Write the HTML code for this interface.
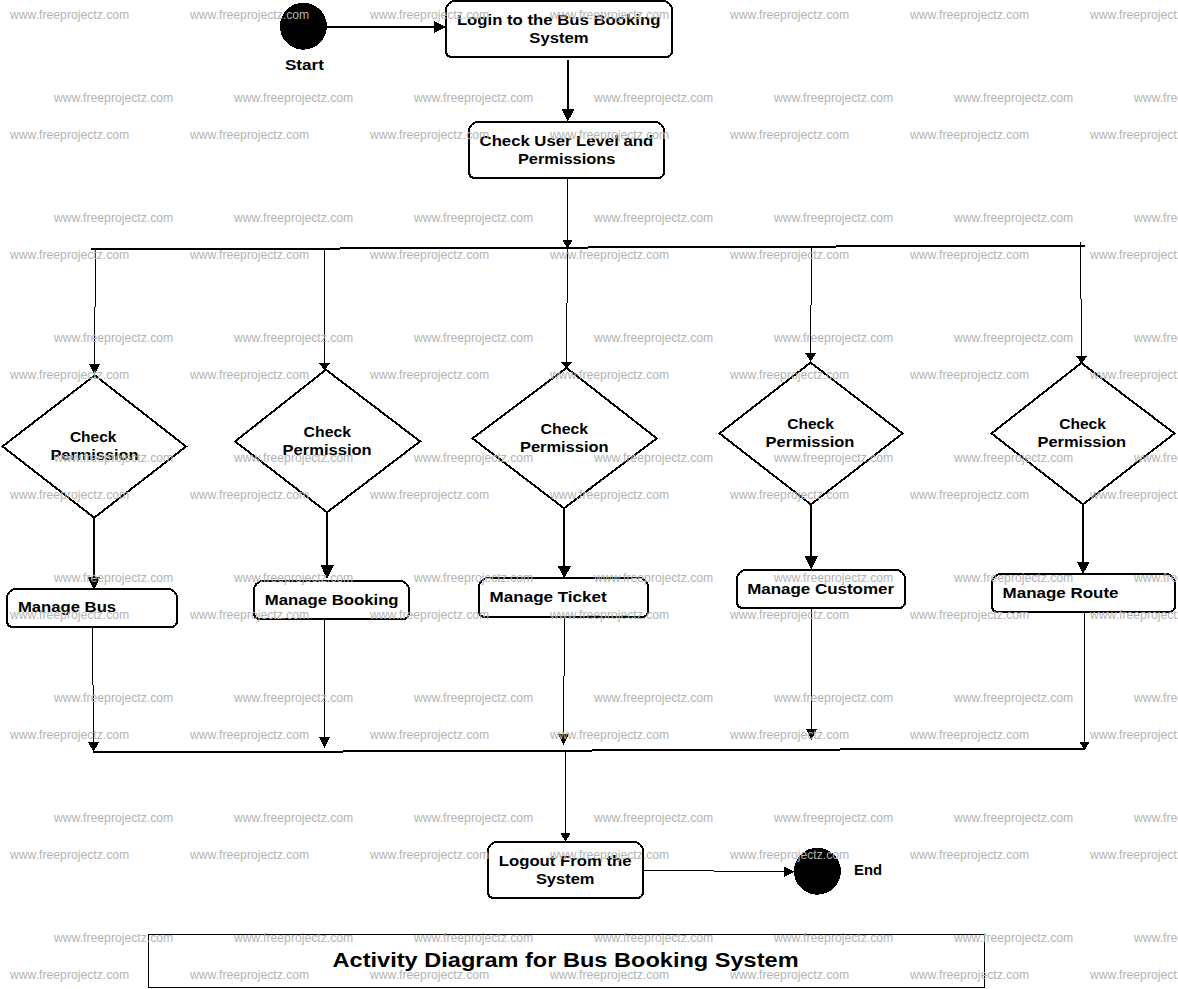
<!DOCTYPE html>
<html><head><meta charset="utf-8"><title>Activity Diagram for Bus Booking System</title>
<style>
html,body{margin:0;padding:0;background:#fff;}
body{width:1178px;height:989px;overflow:hidden;position:relative;}
svg{position:absolute;left:0;top:0;display:block;}
.t text{font-family:"Liberation Sans",sans-serif;font-weight:bold;fill:#000;}
.w text{font-family:"Liberation Sans",sans-serif;font-size:12.2px;fill:#b3b3b3;}
</style></head>
<body>
<svg width="1178" height="989" viewBox="0 0 1178 989">
<rect x="0" y="0" width="1178" height="989" fill="#fff"/>
<g shape-rendering="crispEdges">
<circle cx="303.4" cy="26.2" r="23.5" fill="#000"/>
<line x1="326" y1="27" x2="435" y2="27" stroke="#000" stroke-width="2"/>
<polygon points="433.5,21.0 446,27.0 433.5,33.2" fill="#000"/>
<path d="M455.0,1 H663.0 A9.0,9.0 0 0 1 672,10.0 V51.5 A5.5,5.5 0 0 1 666.5,57 H451.5 A5.5,5.5 0 0 1 446,51.5 V10.0 A9.0,9.0 0 0 1 455.0,1 Z" fill="#fff" stroke="#000" stroke-width="2"/>
<line x1="568" y1="60.3" x2="568" y2="110" stroke="#000" stroke-width="2"/>
<polygon points="561.2,108.9 574.6,108.9 567.9,121.5" fill="#000"/>
<path d="M478.0,122 H655.0 A9.0,9.0 0 0 1 664,131.0 V172.5 A5.5,5.5 0 0 1 658.5,178 H474.5 A5.5,5.5 0 0 1 469,172.5 V131.0 A9.0,9.0 0 0 1 478.0,122 Z" fill="#fff" stroke="#000" stroke-width="2"/>
<line x1="567.5" y1="179" x2="567.5" y2="241" stroke="#000" stroke-width="1"/>
<polygon points="562.2,240 572.8,240 567.5,248.2" fill="#000"/>
<line x1="91" y1="249" x2="340" y2="249" stroke="#000" stroke-width="2"/>
<line x1="340" y1="248" x2="587.7" y2="248" stroke="#000" stroke-width="2"/>
<line x1="587.7" y1="247" x2="836.4" y2="247" stroke="#000" stroke-width="2"/>
<line x1="836.4" y1="246" x2="1084.7" y2="246" stroke="#000" stroke-width="2"/>
<line x1="95.5" y1="249" x2="95.5" y2="306.7" stroke="#000" stroke-width="1"/><line x1="94.5" y1="306.7" x2="94.5" y2="365" stroke="#000" stroke-width="1"/>
<polygon points="89.1,364 99.9,364 94.5,374.8" fill="#000"/>
<line x1="324.5" y1="248" x2="324.5" y2="364" stroke="#000" stroke-width="1"/>
<polygon points="319.1,363.1 329.8,363.1 324.5,370.5" fill="#000"/>
<line x1="567.5" y1="247" x2="567.5" y2="303" stroke="#000" stroke-width="1"/><line x1="566.5" y1="303" x2="566.5" y2="363" stroke="#000" stroke-width="1"/>
<polygon points="561.2,362.2 571.9,362.2 566.5,369.0" fill="#000"/>
<line x1="811.5" y1="246" x2="811.5" y2="304.5" stroke="#000" stroke-width="1"/><line x1="810.5" y1="304.5" x2="810.5" y2="354" stroke="#000" stroke-width="1"/>
<polygon points="805.3,353.4 816.0,353.4 810.6,361.8" fill="#000"/>
<line x1="1080.5" y1="242.2" x2="1080.5" y2="299" stroke="#000" stroke-width="1"/><line x1="1081.5" y1="299" x2="1081.5" y2="357" stroke="#000" stroke-width="1"/>
<polygon points="1076.2,356.3 1086.9,356.3 1081.5,363.6" fill="#000"/>
<polygon points="94.80,375.30 186.00,446.50 94.20,517.70 2.50,446.40" fill="#fff" stroke="#000" stroke-width="2" stroke-linejoin="miter"/>
<polygon points="325.90,369.70 420.10,441.40 327.10,512.30 235.10,441.40" fill="#fff" stroke="#000" stroke-width="2" stroke-linejoin="miter"/>
<polygon points="566.50,367.90 656.80,438.40 564.00,508.20 472.50,438.40" fill="#fff" stroke="#000" stroke-width="2" stroke-linejoin="miter"/>
<polygon points="810.60,362.60 902.60,433.40 810.90,504.40 719.50,433.40" fill="#fff" stroke="#000" stroke-width="2" stroke-linejoin="miter"/>
<polygon points="1081.40,362.90 1174.50,433.40 1083.00,504.40 991.50,433.40" fill="#fff" stroke="#000" stroke-width="2" stroke-linejoin="miter"/>
<line x1="94.0" y1="517" x2="94.0" y2="578" stroke="#000" stroke-width="2"/>
<polygon points="87.5,577 100.5,577 94.0,589.5" fill="#000"/>
<line x1="327.0" y1="511.6" x2="327.0" y2="566" stroke="#000" stroke-width="2"/>
<polygon points="320.5,565.4 333.8,565.4 327.2,579.0" fill="#000"/>
<line x1="564.0" y1="507.5" x2="564.0" y2="567" stroke="#000" stroke-width="2"/>
<polygon points="557.6,566.1 571.0,566.1 564.3,578.0" fill="#000"/>
<line x1="811.0" y1="503.7" x2="811.0" y2="557" stroke="#000" stroke-width="2"/>
<polygon points="804.8,556.3 817.8,556.3 811.3,569.8" fill="#000"/>
<line x1="1083.0" y1="503.7" x2="1083.0" y2="563" stroke="#000" stroke-width="2"/>
<polygon points="1076.8,562.2 1089.6,562.2 1083.2,573.8" fill="#000"/>
<path d="M16.0,589 H168.0 A9.0,9.0 0 0 1 177,598.0 V621.5 A5.5,5.5 0 0 1 171.5,627 H12.5 A5.5,5.5 0 0 1 7,621.5 V598.0 A9.0,9.0 0 0 1 16.0,589 Z" fill="#fff" stroke="#000" stroke-width="2"/>
<path d="M263.0,581 H400.0 A9.0,9.0 0 0 1 409,590.0 V613.5 A5.5,5.5 0 0 1 403.5,619 H259.5 A5.5,5.5 0 0 1 254,613.5 V590.0 A9.0,9.0 0 0 1 263.0,581 Z" fill="#fff" stroke="#000" stroke-width="2"/>
<path d="M488.0,578 H639.0 A9.0,9.0 0 0 1 648,587.0 V611.5 A5.5,5.5 0 0 1 642.5,617 H484.5 A5.5,5.5 0 0 1 479,611.5 V587.0 A9.0,9.0 0 0 1 488.0,578 Z" fill="#fff" stroke="#000" stroke-width="2"/>
<path d="M746.0,570 H896.0 A9.0,9.0 0 0 1 905,579.0 V602.5 A5.5,5.5 0 0 1 899.5,608 H742.5 A5.5,5.5 0 0 1 737,602.5 V579.0 A9.0,9.0 0 0 1 746.0,570 Z" fill="#fff" stroke="#000" stroke-width="2"/>
<path d="M1001.0,574 H1166.0 A9.0,9.0 0 0 1 1175,583.0 V606.5 A5.5,5.5 0 0 1 1169.5,612 H997.5 A5.5,5.5 0 0 1 992,606.5 V583.0 A9.0,9.0 0 0 1 1001.0,574 Z" fill="#fff" stroke="#000" stroke-width="2"/>
<line x1="92.5" y1="628" x2="92.5" y2="684.5" stroke="#000" stroke-width="1"/><line x1="93.5" y1="684.5" x2="93.5" y2="743" stroke="#000" stroke-width="1"/>
<polygon points="88.0,742 99.0,742 93.5,752.0" fill="#000"/>
<line x1="324.5" y1="620" x2="324.5" y2="738" stroke="#000" stroke-width="1"/>
<polygon points="319.1,737.3 329.8,737.3 324.5,747.8" fill="#000"/>
<line x1="564.5" y1="618" x2="564.5" y2="675.6" stroke="#000" stroke-width="1"/><line x1="563.5" y1="675.6" x2="563.5" y2="735" stroke="#000" stroke-width="1"/>
<polygon points="557.9,734.0 568.9,734.0 563.5,744.6" fill="#000"/>
<line x1="811.5" y1="609" x2="811.5" y2="730" stroke="#000" stroke-width="1"/>
<polygon points="806.2,729.3 816.9,729.3 811.5,740.0" fill="#000"/>
<line x1="1084.5" y1="613" x2="1084.5" y2="742" stroke="#000" stroke-width="1"/>
<polygon points="1079.2,741.5 1089.8,741.5 1084.5,750.2" fill="#000"/>
<line x1="93.0" y1="752" x2="342.9" y2="752" stroke="#000" stroke-width="2"/>
<line x1="342.9" y1="751" x2="591.5" y2="751" stroke="#000" stroke-width="2"/>
<line x1="591.5" y1="750" x2="840" y2="750" stroke="#000" stroke-width="2"/>
<line x1="840" y1="749" x2="1085" y2="749" stroke="#000" stroke-width="2"/>
<line x1="565.5" y1="750" x2="565.5" y2="834" stroke="#000" stroke-width="1"/>
<polygon points="560.3,833 570.8,833 565.5,841.6" fill="#000"/>
<path d="M497.0,842 H634.0 A9.0,9.0 0 0 1 643,851.0 V892.5 A5.5,5.5 0 0 1 637.5,898 H493.5 A5.5,5.5 0 0 1 488,892.5 V851.0 A9.0,9.0 0 0 1 497.0,842 Z" fill="#fff" stroke="#000" stroke-width="2"/>
<line x1="644" y1="870.5" x2="714" y2="870.5" stroke="#000" stroke-width="1"/>
<line x1="714" y1="871.5" x2="785" y2="871.5" stroke="#000" stroke-width="1"/>
<polygon points="784.2,866.4 794.5,871.6 784.2,877.0" fill="#000"/>
<circle cx="817.4" cy="871.2" r="23.5" fill="#000"/>
<rect x="148.5" y="934.5" width="836" height="53" fill="none" stroke="#000" stroke-width="1"/>
</g>
<g class="t">
<text x="284.90" y="70.00" font-size="14.3" textLength="39.00" lengthAdjust="spacingAndGlyphs">Start</text>
<text x="456.90" y="25.00" font-size="14.3" textLength="203.50" lengthAdjust="spacingAndGlyphs">Login to the Bus Booking</text>
<text x="529.30" y="43.00" font-size="14.3" textLength="59.20" lengthAdjust="spacingAndGlyphs">System</text>
<text x="479.60" y="146.00" font-size="14.3" textLength="173.50" lengthAdjust="spacingAndGlyphs">Check User Level and</text>
<text x="517.90" y="164.00" font-size="14.3" textLength="97.60" lengthAdjust="spacingAndGlyphs">Permissions</text>
<text x="69.90" y="442.00" font-size="14.3" textLength="46.50" lengthAdjust="spacingAndGlyphs">Check</text>
<text x="50.40" y="460.00" font-size="14.3" textLength="88.10" lengthAdjust="spacingAndGlyphs">Permission</text>
<text x="303.60" y="437.00" font-size="14.3" textLength="47.40" lengthAdjust="spacingAndGlyphs">Check</text>
<text x="282.50" y="455.00" font-size="14.3" textLength="89.20" lengthAdjust="spacingAndGlyphs">Permission</text>
<text x="540.60" y="434.00" font-size="14.3" textLength="47.50" lengthAdjust="spacingAndGlyphs">Check</text>
<text x="520.00" y="452.00" font-size="14.3" textLength="88.50" lengthAdjust="spacingAndGlyphs">Permission</text>
<text x="787.20" y="429.00" font-size="14.3" textLength="46.60" lengthAdjust="spacingAndGlyphs">Check</text>
<text x="765.60" y="447.00" font-size="14.3" textLength="88.80" lengthAdjust="spacingAndGlyphs">Permission</text>
<text x="1059.20" y="429.00" font-size="14.3" textLength="46.60" lengthAdjust="spacingAndGlyphs">Check</text>
<text x="1037.50" y="447.00" font-size="14.3" textLength="88.60" lengthAdjust="spacingAndGlyphs">Permission</text>
<text x="17.90" y="612.00" font-size="14.3" textLength="98.20" lengthAdjust="spacingAndGlyphs">Manage Bus</text>
<text x="264.70" y="605.00" font-size="14.3" textLength="133.90" lengthAdjust="spacingAndGlyphs">Manage Booking</text>
<text x="489.60" y="602.00" font-size="14.3" textLength="117.10" lengthAdjust="spacingAndGlyphs">Manage Ticket</text>
<text x="747.20" y="594.00" font-size="14.3" textLength="146.80" lengthAdjust="spacingAndGlyphs">Manage Customer</text>
<text x="1002.60" y="598.00" font-size="14.3" textLength="115.90" lengthAdjust="spacingAndGlyphs">Manage Route</text>
<text x="498.80" y="866.00" font-size="14.3" textLength="132.70" lengthAdjust="spacingAndGlyphs">Logout From the</text>
<text x="535.90" y="884.00" font-size="14.3" textLength="58.60" lengthAdjust="spacingAndGlyphs">System</text>
<text x="854.10" y="875.00" font-size="14.3" textLength="28.00" lengthAdjust="spacingAndGlyphs">End</text>
<text x="332.60" y="967.00" font-size="20.0" textLength="466.00" lengthAdjust="spacingAndGlyphs">Activity Diagram for Bus Booking System</text>
</g>
<g class="w">
<text x="10" y="19">www.freeprojectz.com</text>
<text x="190" y="19">www.freeprojectz.com</text>
<text x="370" y="19">www.freeprojectz.com</text>
<text x="550" y="19">www.freeprojectz.com</text>
<text x="730" y="19">www.freeprojectz.com</text>
<text x="910" y="19">www.freeprojectz.com</text>
<text x="1090" y="19">www.freeprojectz.com</text>
<text x="10" y="139">www.freeprojectz.com</text>
<text x="190" y="139">www.freeprojectz.com</text>
<text x="370" y="139">www.freeprojectz.com</text>
<text x="550" y="139">www.freeprojectz.com</text>
<text x="730" y="139">www.freeprojectz.com</text>
<text x="910" y="139">www.freeprojectz.com</text>
<text x="1090" y="139">www.freeprojectz.com</text>
<text x="10" y="259">www.freeprojectz.com</text>
<text x="190" y="259">www.freeprojectz.com</text>
<text x="370" y="259">www.freeprojectz.com</text>
<text x="550" y="259">www.freeprojectz.com</text>
<text x="730" y="259">www.freeprojectz.com</text>
<text x="910" y="259">www.freeprojectz.com</text>
<text x="1090" y="259">www.freeprojectz.com</text>
<text x="10" y="379">www.freeprojectz.com</text>
<text x="190" y="379">www.freeprojectz.com</text>
<text x="370" y="379">www.freeprojectz.com</text>
<text x="550" y="379">www.freeprojectz.com</text>
<text x="730" y="379">www.freeprojectz.com</text>
<text x="910" y="379">www.freeprojectz.com</text>
<text x="1090" y="379">www.freeprojectz.com</text>
<text x="10" y="499">www.freeprojectz.com</text>
<text x="190" y="499">www.freeprojectz.com</text>
<text x="370" y="499">www.freeprojectz.com</text>
<text x="550" y="499">www.freeprojectz.com</text>
<text x="730" y="499">www.freeprojectz.com</text>
<text x="910" y="499">www.freeprojectz.com</text>
<text x="1090" y="499">www.freeprojectz.com</text>
<text x="10" y="619">www.freeprojectz.com</text>
<text x="190" y="619">www.freeprojectz.com</text>
<text x="370" y="619">www.freeprojectz.com</text>
<text x="550" y="619">www.freeprojectz.com</text>
<text x="730" y="619">www.freeprojectz.com</text>
<text x="910" y="619">www.freeprojectz.com</text>
<text x="1090" y="619">www.freeprojectz.com</text>
<text x="10" y="739">www.freeprojectz.com</text>
<text x="190" y="739">www.freeprojectz.com</text>
<text x="370" y="739">www.freeprojectz.com</text>
<text x="550" y="739">www.freeprojectz.com</text>
<text x="730" y="739">www.freeprojectz.com</text>
<text x="910" y="739">www.freeprojectz.com</text>
<text x="1090" y="739">www.freeprojectz.com</text>
<text x="10" y="859">www.freeprojectz.com</text>
<text x="190" y="859">www.freeprojectz.com</text>
<text x="370" y="859">www.freeprojectz.com</text>
<text x="550" y="859">www.freeprojectz.com</text>
<text x="730" y="859">www.freeprojectz.com</text>
<text x="910" y="859">www.freeprojectz.com</text>
<text x="1090" y="859">www.freeprojectz.com</text>
<text x="10" y="979">www.freeprojectz.com</text>
<text x="190" y="979">www.freeprojectz.com</text>
<text x="370" y="979">www.freeprojectz.com</text>
<text x="550" y="979">www.freeprojectz.com</text>
<text x="730" y="979">www.freeprojectz.com</text>
<text x="910" y="979">www.freeprojectz.com</text>
<text x="1090" y="979">www.freeprojectz.com</text>
<text x="54" y="102">www.freeprojectz.com</text>
<text x="234" y="102">www.freeprojectz.com</text>
<text x="414" y="102">www.freeprojectz.com</text>
<text x="594" y="102">www.freeprojectz.com</text>
<text x="774" y="102">www.freeprojectz.com</text>
<text x="954" y="102">www.freeprojectz.com</text>
<text x="1134" y="102">www.freeprojectz.com</text>
<text x="54" y="222">www.freeprojectz.com</text>
<text x="234" y="222">www.freeprojectz.com</text>
<text x="414" y="222">www.freeprojectz.com</text>
<text x="594" y="222">www.freeprojectz.com</text>
<text x="774" y="222">www.freeprojectz.com</text>
<text x="954" y="222">www.freeprojectz.com</text>
<text x="1134" y="222">www.freeprojectz.com</text>
<text x="54" y="342">www.freeprojectz.com</text>
<text x="234" y="342">www.freeprojectz.com</text>
<text x="414" y="342">www.freeprojectz.com</text>
<text x="594" y="342">www.freeprojectz.com</text>
<text x="774" y="342">www.freeprojectz.com</text>
<text x="954" y="342">www.freeprojectz.com</text>
<text x="1134" y="342">www.freeprojectz.com</text>
<text x="54" y="462">www.freeprojectz.com</text>
<text x="234" y="462">www.freeprojectz.com</text>
<text x="414" y="462">www.freeprojectz.com</text>
<text x="594" y="462">www.freeprojectz.com</text>
<text x="774" y="462">www.freeprojectz.com</text>
<text x="954" y="462">www.freeprojectz.com</text>
<text x="1134" y="462">www.freeprojectz.com</text>
<text x="54" y="582">www.freeprojectz.com</text>
<text x="234" y="582">www.freeprojectz.com</text>
<text x="414" y="582">www.freeprojectz.com</text>
<text x="594" y="582">www.freeprojectz.com</text>
<text x="774" y="582">www.freeprojectz.com</text>
<text x="954" y="582">www.freeprojectz.com</text>
<text x="1134" y="582">www.freeprojectz.com</text>
<text x="54" y="702">www.freeprojectz.com</text>
<text x="234" y="702">www.freeprojectz.com</text>
<text x="414" y="702">www.freeprojectz.com</text>
<text x="594" y="702">www.freeprojectz.com</text>
<text x="774" y="702">www.freeprojectz.com</text>
<text x="954" y="702">www.freeprojectz.com</text>
<text x="1134" y="702">www.freeprojectz.com</text>
<text x="54" y="822">www.freeprojectz.com</text>
<text x="234" y="822">www.freeprojectz.com</text>
<text x="414" y="822">www.freeprojectz.com</text>
<text x="594" y="822">www.freeprojectz.com</text>
<text x="774" y="822">www.freeprojectz.com</text>
<text x="954" y="822">www.freeprojectz.com</text>
<text x="1134" y="822">www.freeprojectz.com</text>
<text x="54" y="942">www.freeprojectz.com</text>
<text x="234" y="942">www.freeprojectz.com</text>
<text x="414" y="942">www.freeprojectz.com</text>
<text x="594" y="942">www.freeprojectz.com</text>
<text x="774" y="942">www.freeprojectz.com</text>
<text x="954" y="942">www.freeprojectz.com</text>
<text x="1134" y="942">www.freeprojectz.com</text>
</g>
</svg>
</body></html>
